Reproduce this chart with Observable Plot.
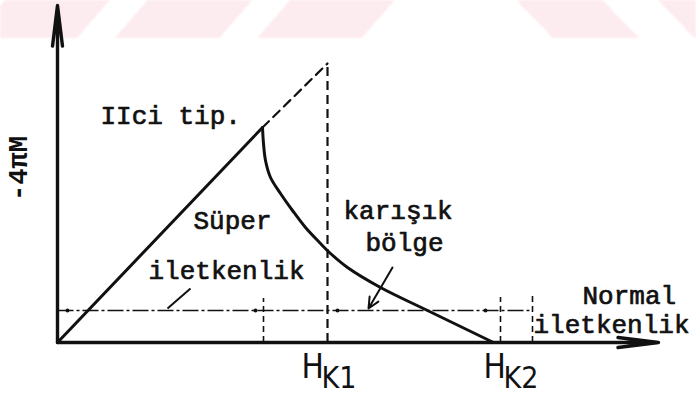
<!DOCTYPE html>
<html>
<head>
<meta charset="utf-8">
<script src="https://cdn.jsdelivr.net/npm/d3@7"></script>
<script src="https://cdn.jsdelivr.net/npm/@observablehq/plot@0.6"></script>
<style>
  html, body { margin: 0; padding: 0; background: #fff; }
  #wrap { position: relative; width: 696px; height: 399px; overflow: hidden; }
  /* faint striped band across the top of the page */
  .band { position: absolute; top: 0; height: 38px; filter: blur(0.8px); }
  .band.left { left: 0; width: 400px;
    background: repeating-linear-gradient(131deg, transparent 0 4px, #fdecef 4px 83px, transparent 83px 107.5px); }
  .band.right { left: 500px; width: 196px;
    background: repeating-linear-gradient(46deg, transparent 0 38px, #fdecef 38px 100px, transparent 100px 102px); }
  #chart { position: absolute; left: 0; top: 0; }
</style>
</head>
<body>
<div id="wrap">
  <div class="band left"></div>
  <div class="band right"></div>
  <div id="chart"></div>
</div>
<script>
// Type-II superconductor: magnetisation −4πM against applied field H (arbitrary units)

// Meissner (superconducting) branch: straight line from the origin to the peak
const meissnerH = [0, 20.5];
const meissnerM = [0, 21.5];

// ideal continuation of the Meissner line up to H_K1
const idealH = [20.5, 27.0];
const idealM = [21.5, 27.9];

// mixed-state branch falling from the peak to H_K2
const mixedH = [20.5, 20.6, 20.8, 21.3, 22.3, 23.5, 24.8, 26.3, 27.3, 29.0, 32.3, 37.0, 43.6];
const mixedM = [21.5, 19.9, 18.2, 16.5, 14.9, 13.2, 11.5, 9.9, 8.9, 7.5, 5.5, 3.2, 0];

// characteristic fields
const peakField = 20.6;
const Hk1 = 27.0;
const Hk2 = 44.3;
const normalEdge = 47.5;

// axis extents
const hMax = 60.1;
const mMax = 33.7;

// region boundary level and its arrow tips
const boundaryLevel = 3.2;
const boundaryTips = [1.0, 19.8, 28.0, 42.8];

// region labels (typewritten)
const regionLabels = ["IIci tip.", "Süper", "iletkenlik", "karışık", "bölge", "Normal", "iletkenlik"];
const regionH = [4.3, 13.6, 9.1, 28.6, 30.8, 52.5, 47.6];
const regionM = [21.9, 11.4, 6.4, 12.4, 9.2, 3.9, 1.0];

// field tick labels on the H axis
const tickMain = ["H", "H"];
const tickSub = ["K1", "K2"];
const tickH = [24.4, 42.6];

const yLabel = "-4πM";

const meissner = meissnerH.map((h, i) => ({h, m: meissnerM[i]}));
const ideal = idealH.map((h, i) => ({h, m: idealM[i]}));
const mixed = mixedH.map((h, i) => ({h, m: mixedM[i]}));
const labels = regionLabels.map((t, i) => ({t, h: regionH[i], m: regionM[i]}));
const ticks = tickMain.map((t, i) => ({t, s: tickSub[i], h: tickH[i]}));
const shortMarks = [
  {h: peakField, top: 4.4},
  {h: Hk2, top: 4.5},
  {h: normalEdge, top: 5.0}
];

const ink = "#111";
const mono = "'Liberation Mono', 'DejaVu Sans Mono', monospace";
const narrow = "'Liberation Sans Narrow', 'DejaVu Sans Condensed', sans-serif";

const chart = Plot.plot({
  width: 696,
  height: 399,
  marginLeft: 57,
  marginRight: 39,
  marginTop: 2,
  marginBottom: 57,
  style: {background: "transparent", overflow: "visible"},
  x: {domain: [0, 60], axis: null},
  y: {domain: [0, 34], axis: null},
  marks: [
    // region boundary line with its arrow tips
    Plot.link([boundaryLevel], {x1: 0, x2: normalEdge, y1: d => d, y2: d => d,
      stroke: ink, strokeWidth: 1.6, strokeDasharray: "16,3,3,3"}),
    Plot.dot(boundaryTips, {x: d => d, y: boundaryLevel, r: 2, fill: ink, stroke: null}),
    // short vertical markers at the peak, H_K2 and the normal-state edge
    Plot.ruleX(shortMarks, {x: "h", y1: 0, y2: "top", stroke: ink,
      strokeWidth: 1.6, strokeDasharray: "6,4"}),
    // long dashed marker at H_K1
    Plot.ruleX([Hk1], {y1: 0, y2: idealM[1], stroke: ink, strokeWidth: 2.2, strokeDasharray: "9,5"}),
    // ideal (dashed) extension
    Plot.line(ideal, {x: "h", y: "m", stroke: ink, strokeWidth: 2.2, strokeDasharray: "9,6"}),
    // Meissner line and mixed-state curve
    Plot.line(meissner, {x: "h", y: "m", stroke: ink, strokeWidth: 3}),
    Plot.line(mixed, {x: "h", y: "m", stroke: ink, strokeWidth: 3, curve: "catmull-rom"}),
    // axes with arrowheads
    Plot.arrow([0], {x1: 0, y1: 0, x2: 0, y2: mMax, stroke: ink, strokeWidth: 3.4,
      headLength: 18, headAngle: 14}),
    Plot.arrow([0], {x1: 0, y1: 0, x2: hMax, y2: 0, stroke: ink, strokeWidth: 3.4,
      headLength: 18, headAngle: 14}),
    // leader lines
    Plot.link([0], {x1: 11.0, y1: 3.4, x2: 13.3, y2: 5.4, stroke: ink, strokeWidth: 2}),
    Plot.arrow([0], {x1: 33.5, y1: 7.5, x2: 31.1, y2: 3.4, stroke: ink, strokeWidth: 2,
      headLength: 9, headAngle: 50}),
    // region labels (regular weight, lightly outlined for a typewriter look)
    Plot.text(labels, {x: "h", y: "m", text: "t", textAnchor: "start", lineAnchor: "bottom",
      fontFamily: mono, fontSize: 26, fill: ink, stroke: ink, strokeWidth: 0.7}),
    // y label
    Plot.text([yLabel], {x: -3.9, y: 17.4, text: d => d, rotate: -90, textAnchor: "middle",
      lineAnchor: "middle", fontFamily: mono, fontWeight: "bold", fontSize: 27, fill: ink}),
    // H_K tick labels
    Plot.text(ticks, {x: "h", y: 0, text: "t", dy: 35, textAnchor: "start", lineAnchor: "bottom",
      fontFamily: narrow, fontSize: 33, fill: ink}),
    Plot.text(ticks, {x: "h", y: 0, text: "s", dx: 20, dy: 45, textAnchor: "start", lineAnchor: "bottom",
      fontFamily: narrow, fontSize: 30, fill: ink})
  ]
});
document.getElementById("chart").appendChild(chart);
</script>
</body>
</html>
